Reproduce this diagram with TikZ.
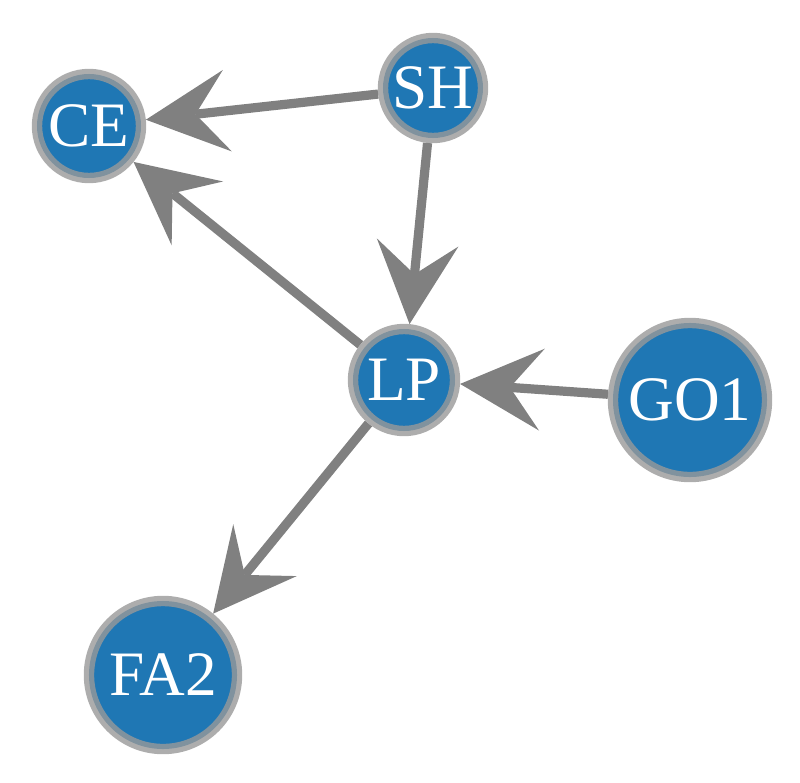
\documentclass[tikz,border=0pt]{standalone}
\usepackage{fontspec}
\setmainfont{Liberation Serif}
\usetikzlibrary{arrows.meta,backgrounds}
\definecolor{nodeblue}{HTML}{1F77B4}
\definecolor{edgegrey}{HTML}{808080}
\definecolor{ringgrey}{HTML}{999999}
\tikzset{
  vtx/.style={circle,fill=nodeblue,draw=ringgrey,draw opacity=0.8,line width=0.26cm,
              text=white,inner sep=0pt,font=\fontsize{45}{45}\selectfont},
  ln/.style={-{Stealth[length=2.05cm,width=2.05cm,inset=0.8cm,line width=0pt]},
             edgegrey,line width=0.23cm},
}

\begin{document}
\begin{tikzpicture}[x=0.025cm,y=-0.025cm,
  small/.style={vtx,minimum size=2.6cm},
  big/.style={vtx,minimum size=3.8cm}]
\useasboundingbox (0,0) rectangle (800,782);

\node[small] (ce) at (89,126) {CE};
\node[small,minimum size=2.5cm] (sh) at (433,88) {SH};
\node[small,minimum size=2.55cm] (lp) at (404,380) {LP};
\node[big,minimum size=3.85cm] (go) at (690,400) {GO1};
\node[big,minimum size=3.7cm] (fa) at (163,675) {FA2};

\begin{scope}[on background layer]
\draw[ln] (sh) -- (ce);
\draw[ln] (sh) -- (lp);
\draw[ln] (lp) -- (ce);
\draw[ln] (go) -- (lp);
\draw[ln] (lp) -- (fa);
\end{scope}
\end{tikzpicture}
\end{document}
